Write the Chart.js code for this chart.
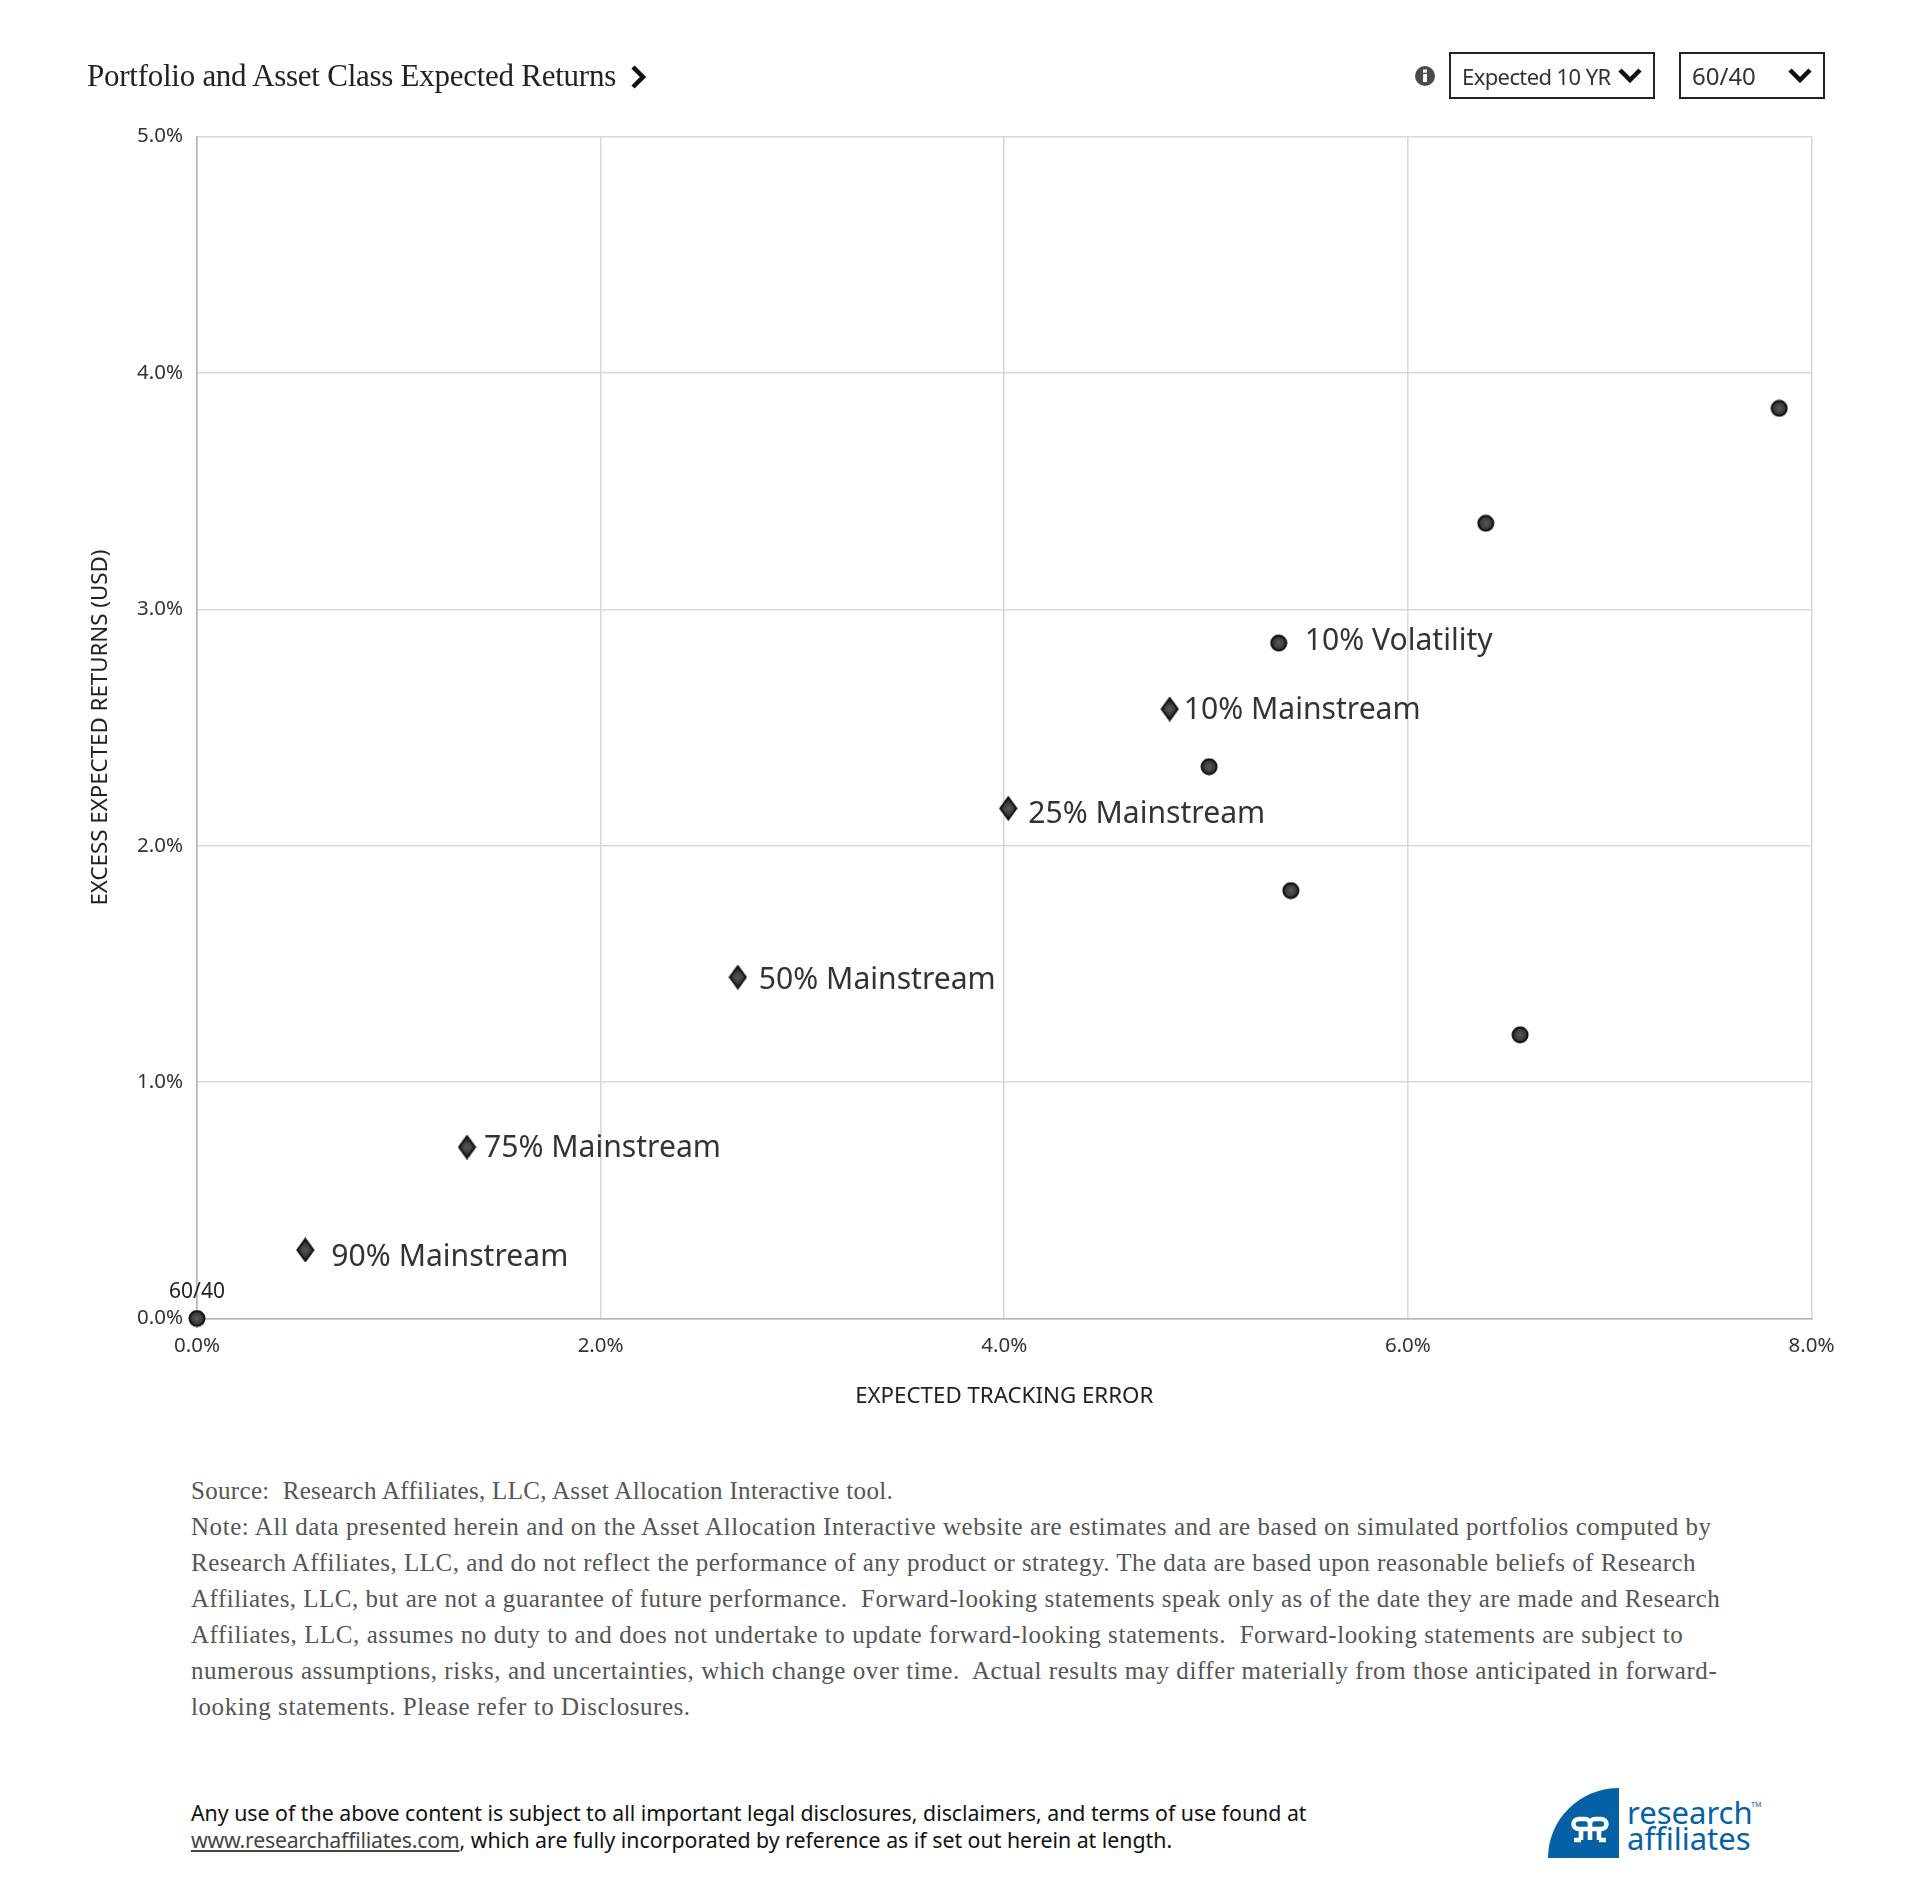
<!DOCTYPE html>
<html>
<head>
<meta charset="utf-8">
<title>Portfolio and Asset Class Expected Returns</title>
<script src="https://cdn.jsdelivr.net/npm/chart.js@4/dist/chart.umd.min.js"></script>
<style>
    html, body { margin: 0; background: #fff; }
    #page { position: relative; width: 1920px; height: 1887px; overflow: hidden; font-family: "Noto Sans", sans-serif; }
    #page > * { position: absolute; }
    #chartCanvas { left: 0; top: 0; }
    .title { left: 87px; top: 55px; font: 31px/42px "Liberation Serif", serif; letter-spacing: -0.26px; color: #222; white-space: nowrap; }
    .pick { top: 52px; height: 43px; border: 2px solid #222; font-size: 22px; line-height: 44px; color: #333; box-sizing: content-box; }
    .pick span { position: absolute; left: 11px; white-space: nowrap; }
    .pick svg { position: absolute; top: 13px; }
    .note { left: 191px; top: 1472.5px; font: 25px/36.1px "Liberation Serif", serif; letter-spacing: 0.56px; color: #555; white-space: nowrap; }
    .terms { left: 191px; top: 1799px; font-size: 21.3px; line-height: 27px; color: #111; white-space: nowrap; }
    .terms u { color: #444; letter-spacing: -0.25px; }
    .logoText { left: 1627px; color: #0561a6; font-size: 31px; line-height: 34px; white-space: nowrap; }
</style>
</head>
<body>
<div id="page">
    <canvas id="chartCanvas" width="1920" height="1450"></canvas>

    <div class="title">Portfolio and Asset Class Expected Returns</div>
    <svg style="left:629px;top:65px" width="18" height="24" viewBox="0 0 18 24"><path d="M4 2 L14 12 L4 22" fill="none" stroke="#111" stroke-width="4.5"/></svg>

    <svg style="left:1414px;top:65px" width="22" height="22" viewBox="0 0 22 22">
        <circle cx="11" cy="11" r="10" fill="#4a4a4a"/>
        <rect x="9" y="9" width="4" height="8" fill="#fff"/><rect x="9" y="4.5" width="4" height="3.2" fill="#fff"/>
    </svg>
    <div class="pick" style="left:1449px;width:202px"><span style="letter-spacing:-0.6px">Expected 10 YR</span>
        <svg style="left:167px" width="24" height="16" viewBox="0 0 24 16"><path d="M2 3 L12 13 L22 3" fill="none" stroke="#111" stroke-width="4.5"/></svg>
    </div>
    <div class="pick" style="left:1679px;width:142px"><span style="font-size:24px">60/40</span>
        <svg style="left:107px" width="24" height="16" viewBox="0 0 24 16"><path d="M2 3 L12 13 L22 3" fill="none" stroke="#111" stroke-width="4.5"/></svg>
    </div>

    <div class="note"><span style="letter-spacing:0.31px">Source:&nbsp; Research Affiliates, LLC, Asset Allocation Interactive tool.</span><br>
Note: All data presented herein and on the Asset Allocation Interactive website are estimates and are based on simulated portfolios computed by<br>
<span style="letter-spacing:0.48px">Research Affiliates, LLC, and do not reflect the performance of any product or strategy. The data are based upon reasonable beliefs of Research</span><br>
<span style="letter-spacing:0.49px">Affiliates, LLC, but are not a guarantee of future performance.&nbsp; Forward-looking statements speak only as of the date they are made and Research</span><br>
Affiliates, LLC, assumes no duty to and does not undertake to update forward-looking statements.&nbsp; Forward-looking statements are subject to<br>
numerous assumptions, risks, and uncertainties, which change over time.&nbsp; Actual results may differ materially from those anticipated in forward-<br>
looking statements. Please refer to Disclosures.</div>

    <div class="terms">Any use of the above content is subject to all important legal disclosures, disclaimers, and terms of use found at<br>
<u>www.researchaffiliates.com</u>, which are fully incorporated by reference as if set out herein at length.</div>

    <svg style="left:1548px;top:1788px" width="72" height="71" viewBox="0 0 72 71">
        <path d="M71 0 L71 70 L0 70 A71 70 0 0 1 71 0 Z" fill="#0561a6"/>
        <path d="M42 41 H31 A5.5 5 0 0 1 31 31 H37 A5 5 0 0 1 42 36 V52 M42 41 H53 A5.5 5 0 0 0 53 31 H47 A5 5 0 0 0 42 36 M33 41 V52 M51 41 V52 M26 52 H33 M51 52 H58" fill="none" stroke="#fff" stroke-width="4.6"/>
    </svg>
    <div class="logoText" style="top:1795px">research</div>
    <div class="logoText" style="top:1821px">affiliates</div>
    <div class="logoText" style="top:1801px;left:1751px;font-size:7px;line-height:8px">TM</div>
</div>

<script>
    // Expected tracking error (x) vs excess expected returns (y), both in %
    const volatilityX = [0, 5.42, 6.556, 5.015, 5.36, 6.386, 7.84];
    const volatilityY = [0, 1.81, 1.20, 2.334, 2.857, 3.364, 3.85];
    const volatilityLabels = ['60/40', '', '', '', '10% Volatility', '', ''];

    const mainstreamX = [0.537, 1.338, 2.68, 4.02, 4.82];
    const mainstreamY = [0.29, 0.725, 1.444, 2.158, 2.578];
    const mainstreamLabels = ['90% Mainstream', '75% Mainstream', '50% Mainstream', '25% Mainstream', '10% Mainstream'];

    const xTicks = [0, 2, 4, 6, 8];
    const yTicks = [0, 1, 2, 3, 4, 5];
    const xTitle = 'EXPECTED TRACKING ERROR';
    const yTitle = 'EXCESS EXPECTED RETURNS (USD)';

    // label nudges relative to the marker, px
    const volatilityNudge = [[0, -26], null, null, null, [26, -2], null, null];
    const mainstreamNudge = [[26, 7], [17, 1], [21, 3], [20, 6], [14, 1]];

    const chartFont = '"Noto Sans", sans-serif';

    function toPoints(xs, ys) {
        return xs.map((x, i) => ({ x: x, y: ys[i] }));
    }

    // shaded markers, the reference has a small highlight in the middle
    function makeMarker(kind) {
        const w = kind === 'diamond' ? 19 : 18, h = kind === 'diamond' ? 25 : 18;
        const c = document.createElement('canvas');
        c.width = w; c.height = h;
        const g = c.getContext('2d');
        const fill = g.createRadialGradient(w / 2, h / 2, 1, w / 2, h / 2, 8);
        fill.addColorStop(0, '#555');
        fill.addColorStop(1, '#2a2a2a');
        g.fillStyle = fill;
        g.strokeStyle = '#111';
        g.lineWidth = 2;
        g.beginPath();
        if (kind === 'diamond') {
            g.moveTo(w / 2, 1.5); g.lineTo(w - 1.5, h / 2); g.lineTo(w / 2, h - 1.5); g.lineTo(1.5, h / 2); g.closePath();
        } else {
            g.arc(w / 2, h / 2, 7.5, 0, Math.PI * 2);
        }
        g.fill();
        g.stroke();
        return c;
    }

    const pointLabels = {
        id: 'pointLabels',
        afterDatasetsDraw(chart) {
            const ctx = chart.ctx;
            chart.data.datasets.forEach((ds, d) => {
                const points = chart.getDatasetMeta(d).data;
                ds.labels.forEach((text, i) => {
                    if (!text) return;
                    const small = text === '60/40';
                    ctx.save();
                    ctx.font = (small ? '21px ' : '30.1px ') + chartFont;
                    ctx.fillStyle = small ? '#222' : '#333';
                    ctx.textAlign = small ? 'center' : 'left';
                    ctx.textBaseline = 'middle';
                    ctx.fillText(text, points[i].x + ds.nudge[i][0], points[i].y + ds.nudge[i][1]);
                    ctx.restore();
                });
            });
        }
    };

    new Chart(document.getElementById('chartCanvas'), {
        type: 'scatter',
        plugins: [pointLabels],
        data: {
            datasets: [
                { label: 'Volatility', data: toPoints(volatilityX, volatilityY), labels: volatilityLabels, nudge: volatilityNudge, pointStyle: makeMarker('circle'), clip: false },
                { label: 'Mainstream', data: toPoints(mainstreamX, mainstreamY), labels: mainstreamLabels, nudge: mainstreamNudge, pointStyle: makeMarker('diamond'), clip: false }
            ]
        },
        options: {
            responsive: false,
            animation: false,
            layout: { padding: { top: 136.5, right: 108.5, left: 0, bottom: 0 } },
            plugins: { legend: { display: false }, tooltip: { enabled: false } },
            scales: {
                x: {
                    min: xTicks[0],
                    max: xTicks[xTicks.length - 1],
                    afterBuildTicks(axis) { axis.ticks = xTicks.map(v => ({ value: v })); },
                    afterFit(axis) { axis.height = 131.5; },
                    grid: { color: '#d9d9d9', lineWidth: 1.6, tickLength: 0 },
                    border: { color: '#b4b4b4', width: 1.6 },
                    ticks: { padding: 15, maxRotation: 0, color: '#333', font: { family: chartFont, size: 20.5 }, callback: v => v.toFixed(1) + '%' },
                    title: { display: true, text: xTitle, color: '#222', padding: { top: 0, bottom: 40 }, font: { family: chartFont, size: 22.3 } }
                },
                y: {
                    min: yTicks[0],
                    max: yTicks[yTicks.length - 1],
                    afterBuildTicks(axis) { axis.ticks = yTicks.map(v => ({ value: v })); },
                    afterFit(axis) { axis.width = 197; },
                    grid: { color: '#d9d9d9', lineWidth: 1.6, tickLength: 0 },
                    border: { color: '#b4b4b4', width: 1.6 },
                    ticks: { padding: 14, color: '#333', font: { family: chartFont, size: 20.5 }, callback: v => v.toFixed(1) + '%' },
                    title: { display: true, text: yTitle, color: '#222', padding: { top: 87, bottom: 0 }, font: { family: chartFont, size: 22.3 } }
                }
            }
        }
    });
</script>
</body>
</html>
